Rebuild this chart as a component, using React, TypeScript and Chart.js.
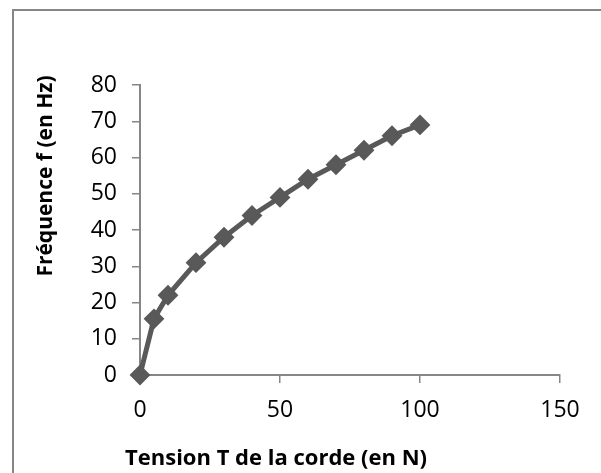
import React, { useEffect, useRef } from "react";
import { Chart, registerables } from "chart.js";

Chart.register(...registerables);

const tensionN = [0, 5, 10, 20, 30, 40, 50, 60, 70, 80, 90, 100];
const frequencyHz = [0, 15.5, 22, 31, 38, 44, 49, 54, 58, 62, 66, 69];
const xTitle = "Tension T de la corde (en N)";
const yTitle = "Fréquence f (en Hz)";
const xMin = 0, xMax = 150, xStep = 50;
const yMin = 0, yMax = 80, yStep = 10;

const FONT = "'Open Sans', 'Noto Sans', sans-serif";
const AXIS = "#868686";
const SERIES = "#595959";

const titlePlugin = {
  id: "axisTitles",
  afterDraw(chart: any) {
    const ctx = chart.ctx;
    ctx.save();
    ctx.fillStyle = "#000";
    ctx.font = `bold 22px ${FONT}`;
    ctx.textAlign = "center";
    ctx.textBaseline = "alphabetic";
    ctx.fillText(xTitle, 276, 465);
    ctx.translate(52, 176);
    ctx.rotate(-Math.PI / 2);
    ctx.font = `bold 21px ${FONT}`;
    ctx.fillText(yTitle, 0, 0);
    ctx.restore();
  },
};

export default function App() {
  const ref = useRef<HTMLCanvasElement | null>(null);
  useEffect(() => {
    document.body.style.margin = "0";
    const chart = new Chart(ref.current as HTMLCanvasElement, {
      type: "scatter",
      data: {
        datasets: [
          {
            data: tensionN.map((x, i) => ({ x, y: frequencyHz[i] })),
            showLine: true,
            clip: false,
            borderColor: SERIES,
            backgroundColor: SERIES,
            borderWidth: 5,
            pointStyle: "rectRot",
            pointRadius: 9,
            pointBorderWidth: 2,
            pointBackgroundColor: SERIES,
            pointBorderColor: SERIES,
          },
        ],
      },
      options: {
        animation: false,
        responsive: false,
        devicePixelRatio: 1,
        layout: { padding: { left: 0, top: 85, right: 41, bottom: 0 } },
        plugins: { legend: { display: false }, tooltip: { enabled: false } },
        scales: {
          x: {
            type: "linear",
            min: xMin,
            max: xMax,
            ticks: { stepSize: xStep, padding: 14, color: "#000", font: { family: FONT, size: 23 } },
            grid: { drawOnChartArea: false, drawTicks: true, tickLength: 8, color: AXIS, lineWidth: 1.5 },
            border: { display: true, color: AXIS, width: 2 },
            afterFit: (s: any) => { s.height = 98; },
          },
          y: {
            type: "linear",
            min: yMin,
            max: yMax,
            ticks: { stepSize: yStep, padding: 15, color: "#000", font: { family: FONT, size: 23 } },
            grid: { drawOnChartArea: false, drawTicks: true, tickLength: 8, color: AXIS, lineWidth: 1.5 },
            border: { display: true, color: AXIS, width: 2 },
            afterFit: (s: any) => { s.width = 140; },
          },
        },
      },
      plugins: [titlePlugin],
    });
    return () => chart.destroy();
  }, []);

  return (
    <div style={{ position: "relative", width: 601, height: 473, overflow: "hidden", background: "#fff" }}>
      <canvas ref={ref} width={601} height={473} style={{ position: "absolute", left: 0, top: 0 }} />
      <div
        style={{
          position: "absolute",
          left: 12,
          top: 9,
          width: 700,
          height: 600,
          border: `2px solid ${AXIS}`,
          pointerEvents: "none",
        }}
      />
    </div>
  );
}
